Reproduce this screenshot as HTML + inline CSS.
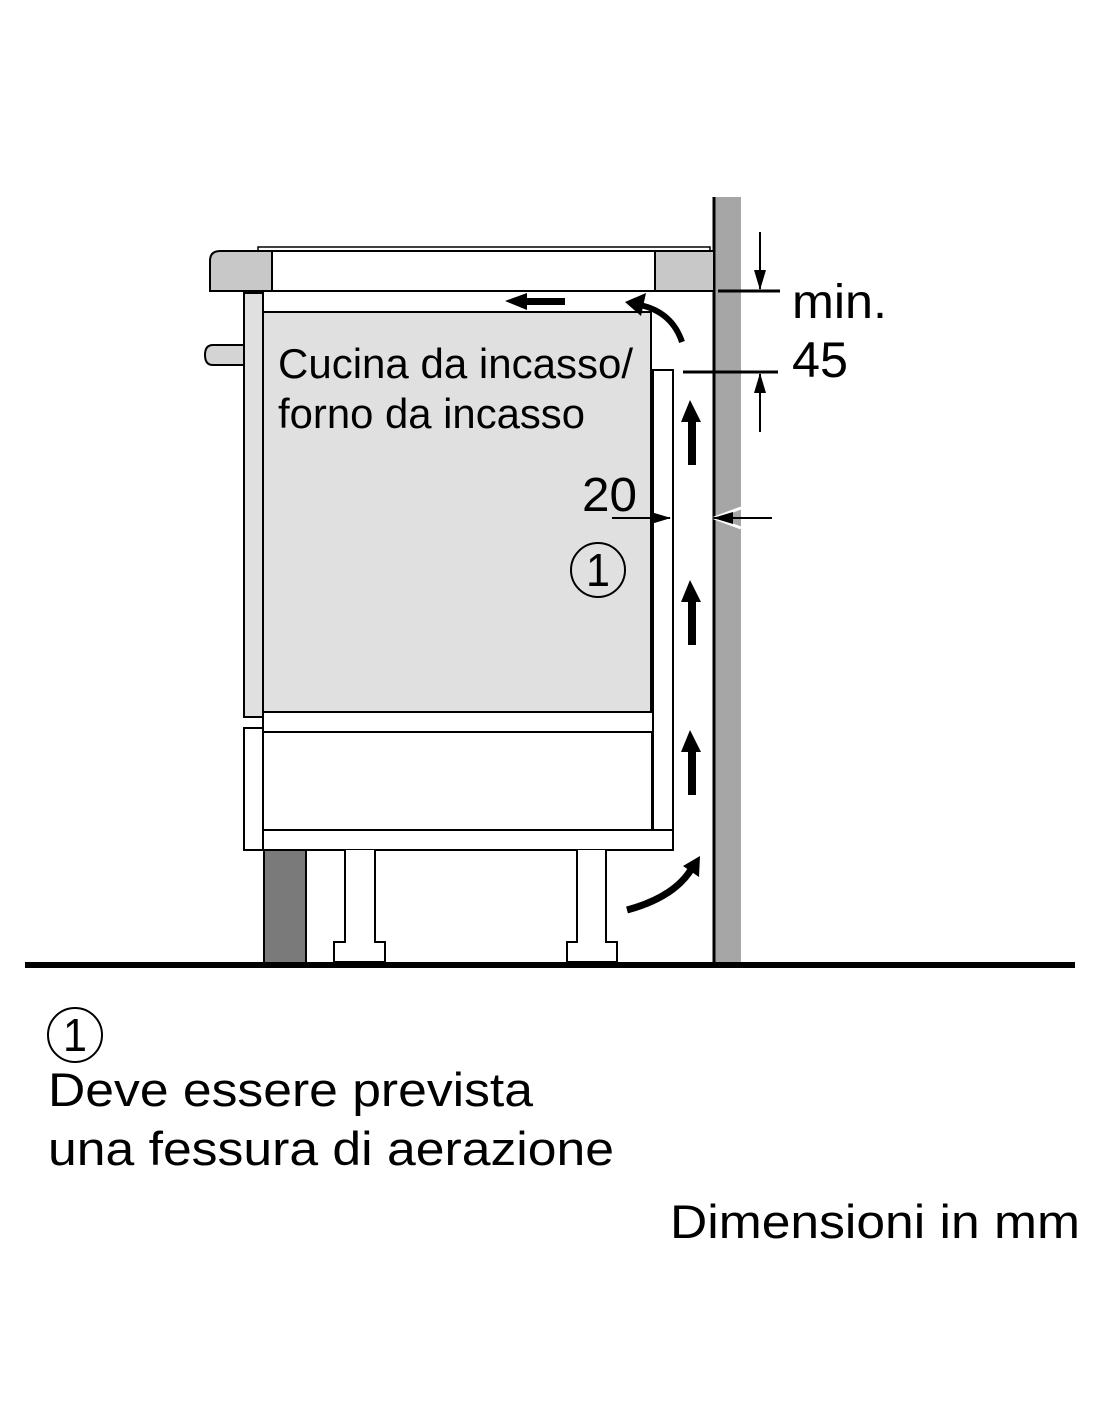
<!DOCTYPE html>
<html><head><meta charset="utf-8"><style>html,body{margin:0;padding:0;background:#fff}svg{display:block}</style></head>
<body>
<svg width="1100" height="1422" viewBox="0 0 1100 1422" xmlns="http://www.w3.org/2000/svg" font-family="Liberation Sans, Arial, sans-serif">
<defs>
<marker id="ah" markerWidth="20" markerHeight="14" refX="19" refY="7" orient="auto" markerUnits="userSpaceOnUse"><path d="M0,1 L20,7 L0,13 Z" fill="#000"/></marker>
</defs>
<g stroke="#000" stroke-width="2">
<rect x="715" y="197" width="26" height="766" fill="#a6a6a6" stroke="none"/>
<line x1="714" y1="197" x2="714" y2="963" stroke-width="3"/>
<path d="M258,251 L258,247 L710,247 L710,251" fill="#fff" stroke-width="1.5"/>
<path d="M220,251 L272,251 L272,291 L210,291 L210,261 Q210,251 220,251 Z" fill="#c8c8c8"/>
<rect x="272" y="251" width="383" height="40" fill="#fff"/>
<rect x="655" y="251" width="59" height="40" fill="#c8c8c8"/>
<path d="M244,345 L213,345 Q205,345 205,355 Q205,365 213,365 L244,365" fill="#d4d4d4"/>
<rect x="244" y="293" width="19" height="424" fill="#e0e0e0"/>
<rect x="263" y="312" width="388" height="400" fill="#e0e0e0"/>
<rect x="263" y="712" width="390" height="20" fill="#fff"/>
<rect x="263" y="732" width="389" height="98" fill="#fff"/>
<rect x="244" y="728" width="19" height="122" fill="#fff"/>
<rect x="653" y="370" width="20" height="460" fill="#fff"/>
<rect x="263" y="830" width="410" height="20" fill="#fff"/>
<rect x="264" y="850" width="42" height="113" fill="#7a7a7a"/>
<path d="M345,850 L345,942 L334,942 L334,962 L385,962 L385,942 L375,942 L375,850" fill="#fff"/>
<path d="M577,850 L577,942 L567,942 L567,962 L617,962 L617,942 L606,942 L606,850" fill="#fff"/>
</g>
<rect x="25" y="962" width="1050" height="6" fill="#000"/>
<g fill="#000">
<path d="M690,400 L681,422 L688,422 L688,465 L696,465 L696,422 L701,422 Z"/>
<path d="M690,580 L681,602 L688,602 L688,645 L696,645 L696,602 L701,602 Z"/>
<path d="M690,730 L681,752 L688,752 L688,795 L696,795 L696,752 L701,752 Z"/>
<path d="M505,301 L527,293 L527,298 L565,298 L565,305 L527,305 L527,310 Z"/>
</g>
<path d="M682,342 Q672,312 640,305" fill="none" stroke="#000" stroke-width="6"/>
<path d="M625,302 L646,293 L641,316 Z" fill="#000"/>
<path d="M627,910 Q675,897 692,868" fill="none" stroke="#000" stroke-width="7"/>
<path d="M700,856 L699,877 L683,866 Z" fill="#000"/>
<g stroke="#000" stroke-width="3">
<line x1="718" y1="291" x2="780" y2="291"/>
<line x1="683" y1="372" x2="778" y2="372"/>
</g>
<g stroke="#000" stroke-width="2" fill="none">
<line x1="760" y1="232" x2="760" y2="289" marker-end="url(#ah)"/>
<line x1="760" y1="432" x2="760" y2="374" marker-end="url(#ah)"/>
<line x1="612" y1="518" x2="670" y2="518" marker-end="url(#ah)"/>
</g>
<g stroke="#fff" stroke-width="3">
<line x1="714" y1="518" x2="741" y2="508"/>
<line x1="714" y1="518" x2="741" y2="528"/>
</g>
<line x1="772" y1="518" x2="714" y2="518" stroke="#000" stroke-width="2" marker-end="url(#ah)"/>
<text x="792" y="318" font-size="48" textLength="95" lengthAdjust="spacingAndGlyphs">min.</text>
<text x="792" y="377" font-size="50" textLength="56" lengthAdjust="spacingAndGlyphs">45</text>
<text x="582" y="511" font-size="48" textLength="55" lengthAdjust="spacingAndGlyphs">20</text>
<circle cx="598" cy="570" r="27" fill="none" stroke="#000" stroke-width="2"/>
<text x="598" y="586" font-size="46" text-anchor="middle" textLength="24" lengthAdjust="spacingAndGlyphs">1</text>
<text x="278" y="378" font-size="42" textLength="355" lengthAdjust="spacingAndGlyphs">Cucina da incasso/</text>
<text x="278" y="428" font-size="42" textLength="307" lengthAdjust="spacingAndGlyphs">forno da incasso</text>
<circle cx="75" cy="1035" r="27" fill="none" stroke="#000" stroke-width="2"/>
<text x="75" y="1051" font-size="46" text-anchor="middle" textLength="24" lengthAdjust="spacingAndGlyphs">1</text>
<text x="48" y="1106" font-size="47" textLength="485" lengthAdjust="spacingAndGlyphs">Deve essere prevista</text>
<text x="48" y="1165" font-size="47" textLength="566" lengthAdjust="spacingAndGlyphs">una fessura di aerazione</text>
<text x="670" y="1238" font-size="47" textLength="410" lengthAdjust="spacingAndGlyphs">Dimensioni in mm</text>
</svg>
</body></html>
